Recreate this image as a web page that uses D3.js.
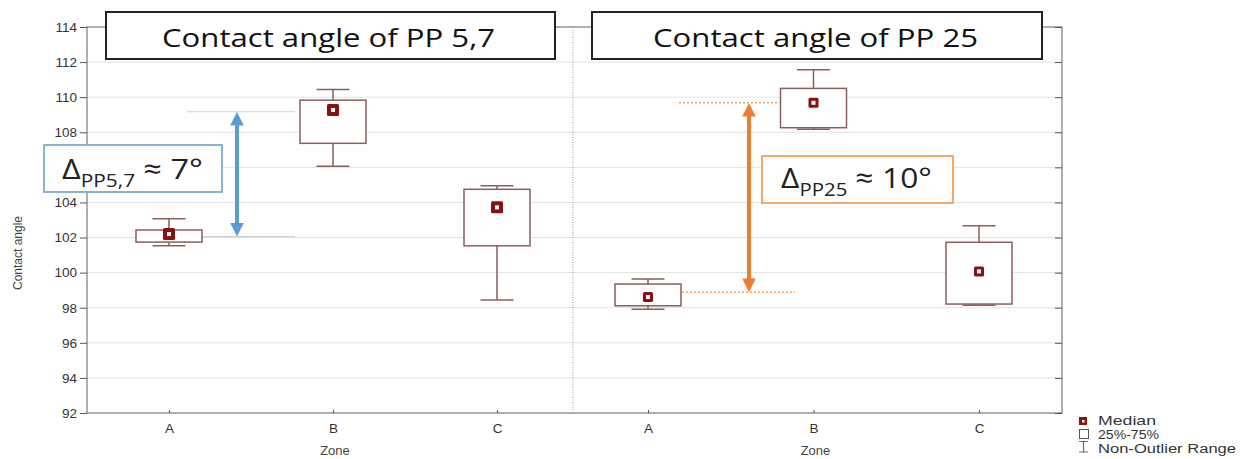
<!DOCTYPE html>
<html><head><meta charset="utf-8">
<script src="https://cdn.jsdelivr.net/npm/d3@7"></script>
<style>body{margin:0;background:#fff}svg{display:block}</style>
</head><body>
<svg id="c" width="1249" height="459"></svg>
<script>
// ---- data ----
const categories = ["A", "B", "C"];
const panelTitles = ["Contact angle of PP 5,7", "Contact angle of PP 25"];
const yTicks = [92, 94, 96, 98, 100, 102, 104, 106, 108, 110, 112, 114];

const pp57Low    = [101.53, 106.07, 98.44];
const pp57Q1     = [101.74, 107.37, 101.53];
const pp57Median = [102.20, 109.27, 103.72];
const pp57Q3     = [102.43, 109.83, 104.75];
const pp57High   = [103.07, 110.44, 104.95];

const pp25Low    = [97.91, 108.17, 98.14];
const pp25Q1     = [98.11, 108.26, 98.21];
const pp25Median = [98.61, 109.68, 100.07];
const pp25Q3     = [99.35, 110.50, 101.73];
const pp25High   = [99.64, 111.56, 102.67];

const deltaPP57 = [102.05, 109.17];
const deltaPP25 = [98.88, 109.68];
const deltaLabels = [{sub: "PP5,7", tail: " ≈ 7°"}, {sub: "PP25", tail: " ≈ 10°"}];
const legendLabels = ["Median", "25%-75%", "Non-Outlier Range"];

// ---- layout ----
const svg = d3.select("#c");
const plotL = 87, plotR = 1062, plotT = 27, plotB = 413, sep = 573;
const y = d3.scaleLinear().domain([92, 114]).range([plotB, plotT]);
const xL = d3.scalePoint().domain(categories).range([169, 497]);
const xR = d3.scalePoint().domain(categories).range([648, 979]);

const boxColor = "#8a5e5e";
const medColor = "#8b1010";
const axisFont = "'Liberation Sans', Arial, sans-serif";
const calFont = "'Open Sans', 'Noto Sans', sans-serif";

// gridlines
svg.append("g").selectAll("line").data(yTicks.filter(d => d > 92 && d < 114)).join("line")
  .attr("x1", plotL).attr("x2", plotR).attr("y1", d => y(d)).attr("y2", d => y(d))
  .attr("stroke", "#e2e2e2").attr("stroke-width", 1);

// frame
svg.append("rect").attr("x", plotL).attr("y", plotT).attr("width", plotR - plotL).attr("height", plotB - plotT)
  .attr("fill", "none").attr("stroke", "#7a7a7a").attr("stroke-width", 1.2);

// separator
svg.append("line").attr("x1", sep).attr("x2", sep).attr("y1", plotT).attr("y2", plotB)
  .attr("stroke", "#999").attr("stroke-width", 1).attr("stroke-dasharray", "1,1.5");

// left y axis
const yAxis = d3.axisLeft(y).tickValues(yTicks).tickSize(7).tickPadding(3).tickFormat(d3.format("d"));
const gy = svg.append("g").attr("transform", `translate(${plotL},0)`).call(yAxis);
gy.select(".domain").remove();
gy.selectAll("line").attr("stroke", "#555");
gy.selectAll("text").attr("font-family", axisFont).attr("font-size", 13.5).attr("fill", "#333");

// right y axis ticks (inward)
const gyr = svg.append("g").attr("transform", `translate(${plotR},0)`)
  .call(d3.axisRight(y).tickValues(yTicks).tickSize(-7).tickFormat(""));
gyr.select(".domain").remove();
gyr.selectAll("line").attr("stroke", "#555");

// x axes
[xL, xR].forEach(xs => {
  const g = svg.append("g").attr("transform", `translate(0,${plotB})`)
    .call(d3.axisBottom(xs).tickSize(-3).tickPadding(10));
  g.select(".domain").remove();
  g.selectAll("line").attr("stroke", "#555");
  g.selectAll("text").attr("font-family", axisFont).attr("font-size", 13.5).attr("fill", "#333");
  svg.append("text").attr("x", xs("B") + 2).attr("y", 455).attr("text-anchor", "middle")
    .attr("font-family", axisFont).attr("font-size", 13).attr("fill", "#444").text("Zone");
});

// y label
svg.append("text").attr("transform", "translate(22,253) rotate(-90)").attr("text-anchor", "middle")
  .attr("font-family", axisFont).attr("font-size", 12).attr("fill", "#444").text("Contact angle");

// boxplots
function drawBoxes(xs, low, q1, med, q3, high, mSize) {
  const g = svg.append("g");
  const bw = 66, cw = 33;
  categories.forEach((c, i) => {
    const cx = xs(c);
    g.append("line").attr("x1", cx).attr("x2", cx).attr("y1", y(high[i])).attr("y2", y(q3[i]))
      .attr("stroke", boxColor).attr("stroke-width", 1.5);
    g.append("line").attr("x1", cx).attr("x2", cx).attr("y1", y(q1[i])).attr("y2", y(low[i]))
      .attr("stroke", boxColor).attr("stroke-width", 1.5);
    g.append("line").attr("x1", cx - cw / 2).attr("x2", cx + cw / 2).attr("y1", y(high[i])).attr("y2", y(high[i]))
      .attr("stroke", boxColor).attr("stroke-width", 1.5);
    g.append("line").attr("x1", cx - cw / 2).attr("x2", cx + cw / 2).attr("y1", y(low[i])).attr("y2", y(low[i]))
      .attr("stroke", boxColor).attr("stroke-width", 1.5);
    g.append("rect").attr("x", cx - bw / 2).attr("y", y(q3[i])).attr("width", bw).attr("height", y(q1[i]) - y(q3[i]))
      .attr("fill", "#fff").attr("stroke", boxColor).attr("stroke-width", 1.5);
    g.append("rect").attr("x", cx - mSize / 2).attr("y", y(med[i]) - mSize / 2).attr("width", mSize).attr("height", mSize)
      .attr("rx", 1.5).attr("fill", medColor);
    g.append("rect").attr("x", cx - 2).attr("y", y(med[i]) - 2).attr("width", 4).attr("height", 4).attr("fill", "#fff");
  });
}
drawBoxes(xL, pp57Low, pp57Q1, pp57Median, pp57Q3, pp57High, 12);
drawBoxes(xR, pp25Low, pp25Q1, pp25Median, pp25Q3, pp25High, 10);

// delta annotations
const defs = svg.append("defs");
function marker(id, color) {
  const m = defs.append("marker").attr("id", id).attr("viewBox", "0 0 10 10").attr("refX", 5).attr("refY", 5)
    .attr("markerWidth", 3.4).attr("markerHeight", 3.4).attr("orient", "auto-start-reverse").attr("markerUnits", "strokeWidth");
  m.append("path").attr("d", "M0,0 L10,5 L0,10 z").attr("fill", color);
}
marker("mb", "#5b9bd5");
marker("mo", "#ed7d31");

// left: gray reference lines
svg.append("line").attr("x1", 187).attr("x2", 295).attr("y1", y(deltaPP57[1])).attr("y2", y(deltaPP57[1]))
  .attr("stroke", "#cfcfcf").attr("stroke-width", 1.2);
svg.append("line").attr("x1", 203).attr("x2", 295).attr("y1", y(deltaPP57[0])).attr("y2", y(deltaPP57[0]))
  .attr("stroke", "#cfcfcf").attr("stroke-width", 1.2);
svg.append("line").attr("x1", 237).attr("x2", 237).attr("y1", y(deltaPP57[0]) - 7).attr("y2", y(deltaPP57[1]) + 7)
  .attr("stroke", "#5b9bd5").attr("stroke-width", 4)
  .attr("marker-start", "url(#mb)").attr("marker-end", "url(#mb)");

// right: dotted orange reference lines
svg.append("line").attr("x1", 679).attr("x2", 780).attr("y1", y(deltaPP25[1])).attr("y2", y(deltaPP25[1]))
  .attr("stroke", "#f0a060").attr("stroke-width", 1.5).attr("stroke-dasharray", "2,2");
svg.append("line").attr("x1", 682).attr("x2", 795).attr("y1", y(deltaPP25[0])).attr("y2", y(deltaPP25[0]))
  .attr("stroke", "#f0a060").attr("stroke-width", 1.5).attr("stroke-dasharray", "2,2");
svg.append("line").attr("x1", 749).attr("x2", 749).attr("y1", y(deltaPP25[0]) - 7).attr("y2", y(deltaPP25[1]) + 7)
  .attr("stroke", "#ed7d31").attr("stroke-width", 4)
  .attr("marker-start", "url(#mo)").attr("marker-end", "url(#mo)");

// delta boxes
function deltaBox(x0, y0, w, h, color, lbl, tx, ty, tl) {
  svg.append("rect").attr("x", x0).attr("y", y0).attr("width", w).attr("height", h)
    .attr("fill", "#fff").attr("stroke", color).attr("stroke-width", 1.8);
  const t = svg.append("text").attr("x", tx).attr("y", ty).attr("font-family", calFont).attr("fill", "#222")
    .attr("textLength", tl).attr("lengthAdjust", "spacingAndGlyphs");
  t.append("tspan").attr("font-size", 28).text("Δ");
  t.append("tspan").attr("font-size", 18).attr("dy", 8).text(lbl.sub);
  t.append("tspan").attr("font-size", 28).attr("dy", -8).text(lbl.tail);
}
deltaBox(44, 145, 178, 47, "#7fa9d3", deltaLabels[0], 62, 179, 141);
deltaBox(762, 156, 191, 47, "#f0a060", deltaLabels[1], 781, 188, 151);

// title boxes
const titles = [{x: 106, w: 449, tl: 333, tx: 162}, {x: 592, w: 450, tl: 325, tx: 653}];
titles.forEach((t, i) => {
  svg.append("rect").attr("x", t.x).attr("y", 12).attr("width", t.w).attr("height", 47)
    .attr("fill", "#fff").attr("stroke", "#222").attr("stroke-width", 2);
  svg.append("text").attr("x", t.tx).attr("y", 47).attr("font-family", calFont).attr("font-size", 26)
    .attr("fill", "#111").attr("textLength", t.tl).attr("lengthAdjust", "spacingAndGlyphs").text(panelTitles[i]);
});

// legend
const lg = svg.append("g").attr("font-family", axisFont).attr("font-size", 12.5).attr("fill", "#333");
lg.append("rect").attr("x", 1079).attr("y", 417).attr("width", 8).attr("height", 8).attr("fill", medColor);
lg.append("rect").attr("x", 1082).attr("y", 420).attr("width", 2.5).attr("height", 2.5).attr("fill", "#fff");
lg.append("rect").attr("x", 1079.5).attr("y", 429.5).attr("width", 9).attr("height", 9).attr("fill", "#fff").attr("stroke", "#555");
lg.append("path").attr("d", "M1079,441.5 H1088 M1083.5,441.5 V452 M1079,452 H1088").attr("stroke", boxColor).attr("stroke-width", 1.2).attr("fill", "none");
const legendLens = [58, 61, 138];
legendLabels.forEach((l, i) => {
  lg.append("text").attr("x", 1098).attr("y", 425 + i * 13.8)
    .attr("textLength", legendLens[i]).attr("lengthAdjust", "spacingAndGlyphs").text(l);
});
</script>
</body></html>
